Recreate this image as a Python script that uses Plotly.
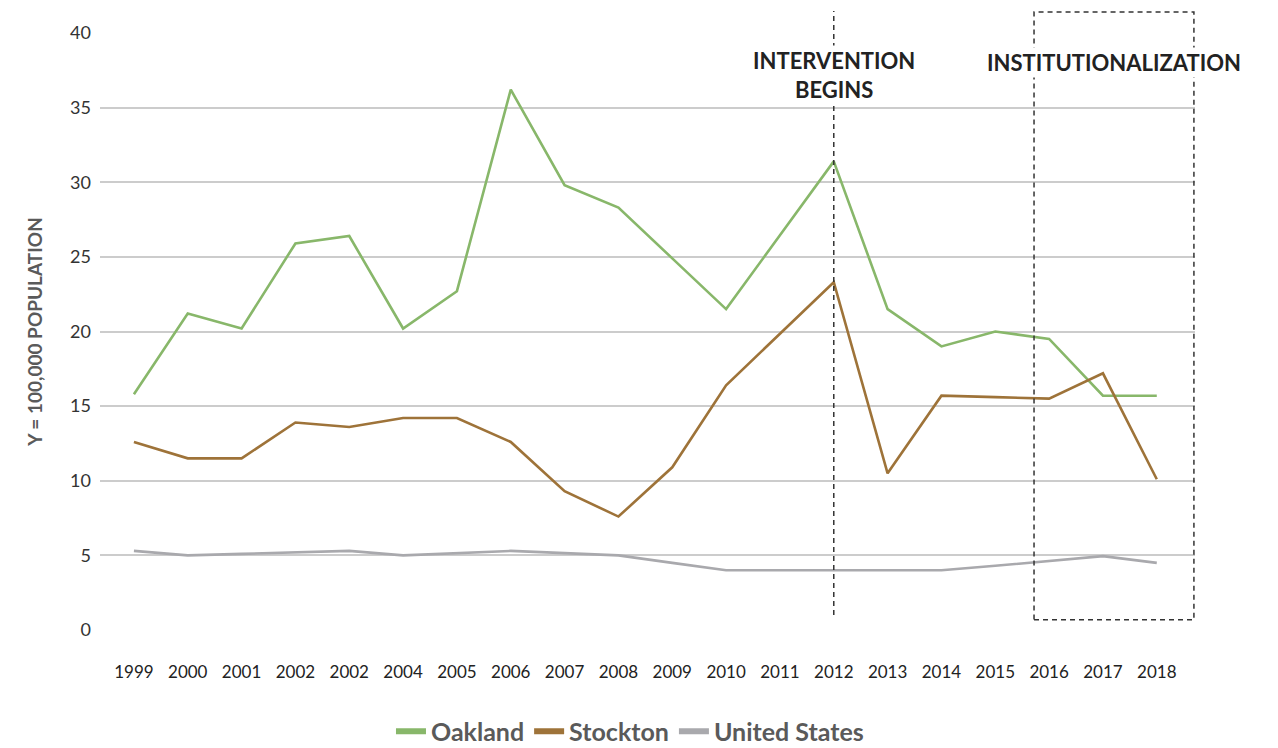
import plotly.graph_objects as go

year_labels = ["1999", "2000", "2001", "2002", "2002", "2004", "2005", "2006", "2007", "2008",
               "2009", "2010", "2011", "2012", "2013", "2014", "2015", "2016", "2017", "2018"]
oakland = [15.8, 21.2, 20.2, 25.9, 26.4, 20.2, 22.7, 36.2, 29.8, 28.3,
           24.9, 21.5, 26.45, 31.4, 21.5, 19.0, 20.0, 19.5, 15.7, 15.7]
stockton = [12.6, 11.5, 11.5, 13.9, 13.6, 14.2, 14.2, 12.6, 9.3, 7.6,
            10.9, 16.4, 19.85, 23.3, 10.5, 15.7, 15.6, 15.5, 17.2, 10.1]
united_states = [5.3, 5.0, 5.1, 5.2, 5.3, 5.0, 5.15, 5.3, 5.15, 5.0,
                 4.5, 4.0, 4.0, 4.0, 4.0, 4.0, 4.3, 4.65, 4.95, 4.5]
series_names = ["Oakland", "Stockton", "United States"]
series_values = [oakland, stockton, united_states]
colors = ["#88b76a", "#9e7339", "#a9a9ad"]

x_idx = list(range(len(year_labels)))
FONT = "Lato"

fig = go.Figure()
for name, vals, col in zip(series_names, series_values, colors):
    fig.add_trace(go.Scatter(x=x_idx, y=vals, mode="lines", name=name,
                             line=dict(color=col, width=2.6), showlegend=False,
                             hoverinfo="x+y"))
    # legend proxy with thicker swatch
    fig.add_trace(go.Scatter(x=[None], y=[None], mode="lines", name=name,
                             line=dict(color=col, width=6), showlegend=True))

intervention_idx = year_labels.index("2012")

fig.update_layout(
    width=1278, height=748,
    margin=dict(l=100, r=83, t=33, b=118, autoexpand=False),
    paper_bgcolor="white", plot_bgcolor="white",
    font=dict(family=FONT, color="#333333"),
    xaxis=dict(
        range=[-0.63, 19.71],
        tickmode="array", tickvals=x_idx, ticktext=year_labels,
        showgrid=False, zeroline=False, showline=False, ticks="",
        tickfont=dict(size=17, color="#222222", family=FONT),
        ticklabelstandoff=30,
    ),
    yaxis=dict(
        range=[0, 40], tickmode="array", tickvals=[0, 5, 10, 15, 20, 25, 30, 35, 40],
        showgrid=True, gridcolor="#cccccc", gridwidth=1.5,
        zeroline=False, showline=False, ticks="",
        tickfont=dict(size=18, color="#333333", family=FONT),
        ticklabelstandoff=8,
        title=dict(text="Y = 100,000 POPULATION",
                   font=dict(size=19, color="#5a5a5a", family=FONT, weight="bold"),
                   standoff=22),
    ),
    legend=dict(orientation="h", x=0.484, xanchor="center",
                yref="container", y=0.022, yanchor="middle",
                font=dict(size=25, color="#5a5a5a", family=FONT, weight="bold"),
                itemwidth=30, traceorder="normal", bgcolor="rgba(0,0,0,0)"),
    showlegend=True,
)

# Intervention dashed vertical line
fig.add_shape(type="line", xref="x", yref="paper",
              x0=intervention_idx, x1=intervention_idx, y0=0.025, y1=1.037,
              line=dict(color="#333333", width=1.5, dash="5px,4px"))
# Institutionalization dashed box
fig.add_shape(type="rect", xref="x", yref="paper",
              x0=16.72, x1=19.69, y0=0.017, y1=1.035,
              line=dict(color="#333333", width=1.5, dash="5px,4px"),
              fillcolor="rgba(0,0,0,0)")

fig.add_annotation(x=intervention_idx, y=0.93, xref="x", yref="paper",
                   text="INTERVENTION<br>BEGINS", showarrow=False,
                   font=dict(size=22, color="#222222", family=FONT, weight="bold"),
                   bgcolor="white", align="center", xanchor="center", yanchor="middle")
fig.add_annotation(x=18.2, y=0.951, xref="x", yref="paper",
                   text="INSTITUTIONALIZATION", showarrow=False,
                   font=dict(size=22, color="#222222", family=FONT, weight="bold"),
                   bgcolor="white", align="center", xanchor="center", yanchor="middle")

fig.write_html("out.html")
